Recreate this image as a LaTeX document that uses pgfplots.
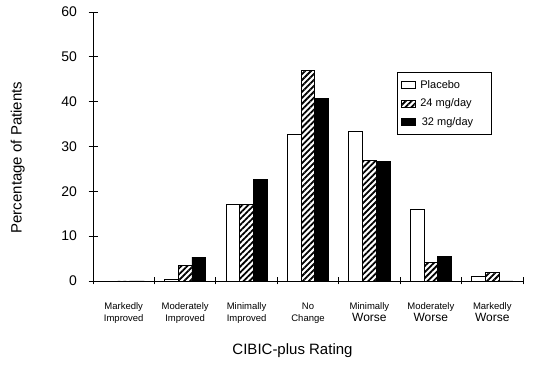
\documentclass[border=0pt]{standalone}
\usepackage{fontspec}
\setmainfont{Liberation Sans}
\usepackage{pgfplots}
\pgfplotsset{compat=1.18}
\usetikzlibrary{patterns.meta}
\begin{document}
\begin{tikzpicture}
\path[use as bounding box] (0,0) rectangle (548pt,382pt);
\begin{axis}[
  at={(93pt,101pt)}, anchor=south west,
  scale only axis, width=430pt, height=269pt,
  xmin=-0.5, xmax=6.5, ymin=0, ymax=60,
  axis lines=left, axis line style={-, line width=0.9pt},
  ybar, bar width=0.223,
  ytick={0,10,...,60},
  xtick={0,...,6},
  xticklabels={{Markedly\\Improved},{Moderately\\Improved},{Minimally\\Improved},{No\\Change},{Minimally\\{\fontsize{12}{13}\selectfont Worse}},{Moderately\\{\fontsize{12}{13}\selectfont Worse}},{Markedly\\{\fontsize{12}{13}\selectfont Worse}}},
  minor xtick={-0.5,0.5,...,6.5},
  major x tick style={draw=none},
  minor tick length=7pt,
  major tick length=9pt,
  tick align=center,
  tick style={black, line width=0.9pt},
  xticklabel style={font=\fontsize{9.5}{11.5}\selectfont, align=center, yshift=-14pt},
  yticklabel style={font=\fontsize{14}{16}\selectfont, xshift=-8pt},
  /pgf/number format/assume math mode=true,
  xlabel={CIBIC-plus Rating},
  ylabel={Percentage of Patients},
  label style={font=\fontsize{15}{17}\selectfont},
  xlabel style={at={(axis description cs:0.464,-0.26)}, anchor=center},
  ylabel style={at={(axis description cs:-0.175,0.459)}, anchor=center},
  legend style={at={(axis description cs:0.707,0.777)}, anchor=north west,
    draw=black, line width=0.9pt, font=\fontsize{11}{13}\selectfont,
    row sep=5pt, inner xsep=4pt, inner ysep=6pt,
    legend cell align=left},
  legend image code/.code={\draw[#1, line width=0.9pt] (0pt,-3.5pt) rectangle (14pt,3.5pt);},
]
\addplot[bar shift=-0.223, draw=black, fill=white, line width=0.9pt] coordinates
  {(0,0) (1,0.4) (2,17.0) (3,32.6) (4,33.4) (5,16.0) (6,1.1)};
\addplot[bar shift=0, draw=black, fill=white, line width=0.9pt,
  postaction={pattern={Lines[angle=45,distance=4.2pt,line width=1.8pt]}}] coordinates
  {(0,0) (1,3.5) (2,17.0) (3,47.0) (4,26.9) (5,4.2) (6,1.8)};
\addplot[bar shift=0.223, draw=black, fill=black, line width=0.9pt] coordinates
  {(0,0) (1,5.3) (2,22.7) (3,40.8) (4,26.7) (5,5.4) (6,0)};
\legend{\rule{2pt}{0pt}Placebo\rule{12pt}{0pt}, \rule{2pt}{0pt}24 mg/day\rule{12pt}{0pt}, \rule{3.5pt}{0pt}32 mg/day\rule{12pt}{0pt}}
\end{axis}
\end{tikzpicture}
\end{document}
